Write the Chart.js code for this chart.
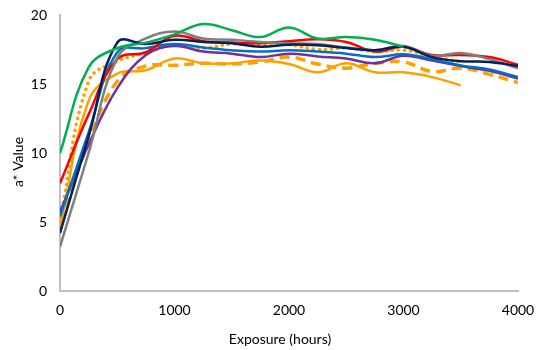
<!DOCTYPE html>
<html>
<head>
<meta charset="utf-8">
<script src="https://cdn.jsdelivr.net/npm/chart.js@4.4.1/dist/chart.umd.min.js"></script>
<style>
  html, body { margin: 0; padding: 0; background: #fff; }
  #wrap { width: 539px; height: 350px; position: relative; }
</style>
</head>
<body>
<div id="wrap"><canvas id="c" width="539" height="350"></canvas></div>
<script>
// Exposure times (hours) at which a* was measured
const hours = [0, 250, 500, 750, 1000, 1250, 1500, 1750, 2000, 2250, 2500, 2750, 3000, 3250, 3500, 3750, 4000];

// a* values per sample
const greenVals  = [10.0, 16.2, 17.6, 18.0, 18.6, 19.35, 18.9, 18.4, 19.1, 18.3, 18.4, 18.2, 17.7];
const redVals    = [7.8, 12.8, 16.8, 17.3, 18.5, 18.1, 18.0, 17.95, 18.1, 18.25, 18.05, 17.35, 17.7, 17.1, 17.1, 16.95, 16.4];
const grayVals   = [3.2, 10.0, 16.9, 18.3, 18.8, 18.3, 18.2, 18.05, 17.95, 17.9, 17.65, 17.45, 17.75, 17.05, 17.25, 16.8, 16.15];
const navyVals   = [4.2, 11.2, 18.0, 17.9, 18.2, 18.05, 17.95, 17.7, 17.85, 17.8, 17.6, 17.45, 17.7, 16.95, 16.65, 16.6, 16.3];
const blueVals   = [5.4, 11.5, 17.3, 17.6, 17.9, 17.65, 17.45, 17.35, 17.45, 17.35, 17.2, 16.95, 17.15, 16.8, 16.35, 16.05, 15.5];
const purpleVals = [5.75, 10.6, 14.7, 17.1, 17.75, 17.35, 17.2, 16.95, 17.2, 17.0, 16.85, 16.5, 17.05, 16.7, 16.3, 15.95, 15.4];
const dottedVals = [5.1, 15.2, 16.65, 17.25, 17.85, 17.6, 17.9, 17.85, 17.85, 17.5, 17.6, 17.35, 17.45, 17.0, 16.6];
const dashedVals = [5.0, 10.8, 15.2, 16.3, 16.35, 16.5, 16.45, 16.6, 16.95, 16.45, 16.15, 16.5, 16.6, 15.9, 16.15, 15.7, 15.1];
const solidOrangeVals = [4.5, 13.8, 15.75, 16.0, 16.85, 16.5, 16.5, 16.7, 16.45, 15.85, 16.5, 15.85, 15.85, 15.5, 14.9];

// Axis ticks
const xTicks = [0, 1000, 2000, 3000, 4000];
const yTicks = [0, 5, 10, 15, 20];

const ORANGE = '#FF9F00';
const FONT = 'Lato, "Open Sans", sans-serif';

function pts(vals) {
  return vals.map((v, i) => ({ x: hours[i], y: v }));
}

function line(vals, color, extra) {
  return Object.assign({
    data: pts(vals),
    borderColor: color,
    backgroundColor: color,
    borderWidth: 2.5,
    pointRadius: 0,
    pointHoverRadius: 0,
    tension: 0.4,
    fill: false
  }, extra || {});
}

// draws the two axis titles at fixed offsets from the plot area
const axisTitles = {
  id: 'axisTitles',
  afterDraw(chart) {
    const { ctx, chartArea } = chart;
    ctx.save();
    ctx.fillStyle = '#000';
    ctx.font = '14px ' + FONT;
    ctx.textAlign = 'center';
    ctx.textBaseline = 'middle';
    ctx.fillText('Exposure (hours)', chartArea.left + 220, chartArea.bottom + 48);
    ctx.translate(18, chartArea.top + 147);
    ctx.rotate(-Math.PI / 2);
    ctx.fillText('a* Value', 0, 0);
    ctx.restore();
  }
};

new Chart(document.getElementById('c'), {
  type: 'line',
  data: {
    datasets: [
      line(greenVals, '#00B050'),
      line(navyVals, '#002060'),
      line(grayVals, '#7F7F7F'),
      line(redVals, '#FF0000'),
      line(blueVals, '#0070C0'),
      line(purpleVals, '#7030A0'),
      line(dashedVals, ORANGE, { borderWidth: 3.5, borderDash: [10, 6] }),
      line(solidOrangeVals, ORANGE),
      line(dottedVals, ORANGE, { borderWidth: 3.5, borderDash: [0.1, 6], borderCapStyle: 'round' })
    ]
  },
  options: {
    responsive: false,
    animation: false,
    devicePixelRatio: 1,
    layout: { padding: { left: 0, right: 21, top: 15, bottom: 0 } },
    plugins: {
      legend: { display: false },
      tooltip: { enabled: false }
    },
    scales: {
      x: {
        type: 'linear',
        min: 0,
        max: 4000,
        afterFit(scale) {
          scale.height = 59;
          scale.paddingLeft = 0;
          scale.paddingRight = 0;
        },
        afterBuildTicks(scale) { scale.ticks = xTicks.map(v => ({ value: v })); },
        grid: { display: false, drawTicks: false },
        border: { display: true, color: '#BFBFBF', width: 2 },
        ticks: {
          color: '#000',
          font: { family: FONT, size: 14 },
          padding: 11,
          maxRotation: 0,
          callback: v => String(v)
        }
      },
      y: {
        type: 'linear',
        min: 0,
        max: 20,
        afterFit(scale) {
          scale.width = 60;
          scale.paddingTop = 0;
          scale.paddingBottom = 0;
        },
        afterBuildTicks(scale) { scale.ticks = yTicks.map(v => ({ value: v })); },
        grid: { display: false, drawTicks: false },
        border: { display: true, color: '#BFBFBF', width: 2 },
        ticks: { color: '#000', font: { family: FONT, size: 14 }, padding: 13, callback: v => String(v) }
      }
    }
  },
  plugins: [axisTitles]
});
</script>
</body>
</html>
